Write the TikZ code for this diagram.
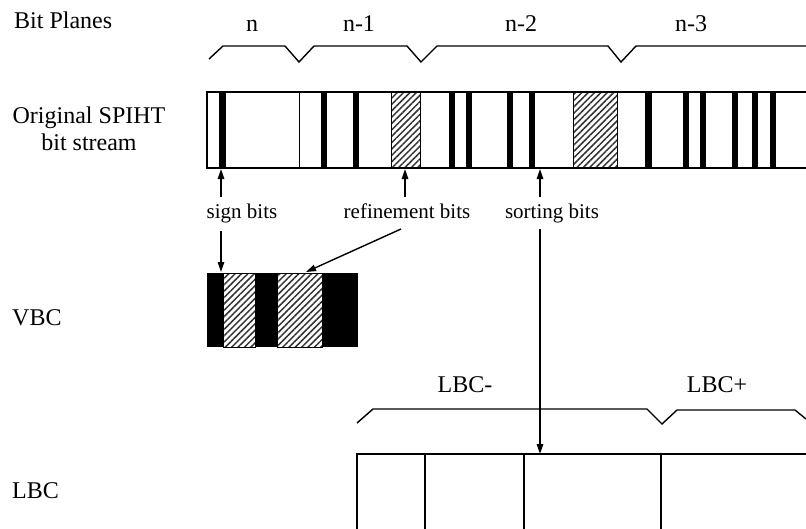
\documentclass[tikz,border=0pt]{standalone}
\usepackage{fontspec}
\setmainfont{Liberation Serif}
\usetikzlibrary{arrows.meta,patterns.meta}
\begin{document}
\begin{tikzpicture}[x=1pt,y=-1pt,
  lab/.style={font=\fontsize{24}{26.7}\selectfont, inner sep=0pt},
  smalllab/.style={font=\fontsize{21}{24}\selectfont, inner sep=0pt},
  ln/.style={line width=1.6pt, line join=miter},
  brace/.style={line width=1.4pt},
  arr/.style={line width=1.4pt, -{Triangle[length=10pt,width=6.5pt]}},
  bar/.style={fill=black, draw=none},
  hatch/.style={pattern={Lines[angle=45,distance=4.5pt,line width=1.5pt]}, pattern color=black!80, draw=black, line width=0.8pt},
  dark/.style={fill=black, draw=none}]
\useasboundingbox (0,0) rectangle (806,528);

% left labels
\node[lab, anchor=base west] (bp) at (14,28) {Bit Planes};
\node[lab, anchor=north, align=center] (osb) at (89,106.5) {Original SPIHT\\bit stream};
\node[lab, anchor=base west] (vbc) at (12,325) {VBC};
\node[lab, anchor=base west] (lbc) at (12,498) {LBC};

% bit plane labels
\node[lab, anchor=base] (pn) at (252,31) {n};
\node[lab, anchor=base] (pn1) at (359,31) {n-1};
\node[lab, anchor=base] (pn2) at (521,31) {n-2};
\node[lab, anchor=base] (pn3) at (691,31) {n-3};

% top brace
\draw[brace] (209,59) -- (223,46) -- (285,46) -- (299,62) -- (314,46) -- (407,46)
  -- (421,62) -- (437,46) -- (608,46) -- (621,62) -- (636,46) -- (806,46);

% bit stream
\foreach \a/\b in {391/420, 573/617}
  \path[hatch] (\a,92) rectangle (\b,168);
\foreach \a/\b in {219/226, 321/327, 353/359, 449/455, 466/472, 507/513, 529/535,
                   645/652, 683/689, 700/706, 732/738, 752/758, 770/776}
  \path[bar] (\a,92) rectangle (\b,168);
\draw[ln] (806,92) -- (207,92) -- (207,168) -- (806,168);
\draw[line width=1pt] (299,92) -- (299,168);

% bit labels
\node[smalllab, anchor=base] (sb) at (242,218) {sign bits};
\node[smalllab, anchor=base] (rb) at (407,218) {refinement bits};
\node[smalllab, anchor=base] (sob) at (552,218) {sorting bits};

\coordinate (a1s) at (221,197); \coordinate (a1t) at (221,169);
\coordinate (b1s) at (405,197); \coordinate (b1t) at (405,169);
\coordinate (c1s) at (540,197); \coordinate (c1t) at (540,169);
\draw[arr] (a1s) -- (a1t);
\draw[arr] (b1s) -- (b1t);
\draw[arr] (c1s) -- (c1t);

% VBC box
\path[dark] (207,273) rectangle (223,347);
\path[dark] (255,273) rectangle (277,347);
\path[dark] (322,273) rectangle (358,347);
\path[hatch] (223,273) rectangle (255,347);
\path[hatch] (277,273) rectangle (322,347);
\coordinate (vbcsign) at (221,272);
\coordinate (vbcref) at (306,272);
\coordinate (a2s) at (221,231);
\coordinate (b2s) at (401,229);
\draw[arr] (a2s) -- (vbcsign);
\draw[arr] (b2s) -- (vbcref);

% LBC labels and brace
\node[lab, anchor=base] (lm) at (465,392) {LBC-};
\node[lab, anchor=base] (lp) at (717,392) {LBC+};
\draw[brace] (357,423) -- (373,409) -- (647,409) -- (662,424) -- (677,410) -- (795,410) -- (806,419);

% LBC box
\draw[ln] (357,530) -- (357,454) -- (806,454);
\foreach \x in {425,524,661}
  \draw[line width=1.2pt] (\x,454) -- (\x,530);
\coordinate (c2s) at (540,229);
\coordinate (lbcin) at (540,454);
\draw[arr] (c2s) -- (lbcin);
\end{tikzpicture}
\end{document}
